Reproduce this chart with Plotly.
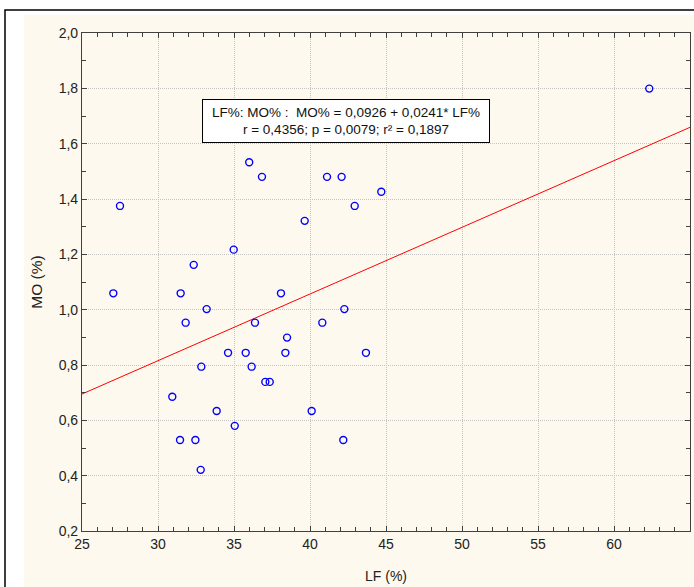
import plotly.graph_objects as go

# Data
lf = [27.06, 27.5, 30.94, 31.45, 31.49, 31.82, 32.35, 32.46, 32.81, 32.85,
      33.2, 33.86, 34.61, 34.98, 35.05, 35.77, 36.0, 36.16, 36.38, 36.84,
      37.06, 37.35, 38.09, 38.38, 38.49, 39.65, 40.11, 40.81, 41.12, 42.08,
      42.19, 42.26, 42.94, 43.68, 44.69, 62.32]
mo = [1.059, 1.375, 0.685, 0.529, 1.059, 0.953, 1.162, 0.529, 0.421, 0.794,
      1.002, 0.634, 0.844, 1.217, 0.580, 0.844, 1.533, 0.794, 0.953, 1.48,
      0.739, 0.739, 1.059, 0.844, 0.899, 1.321, 0.634, 0.953, 1.48, 1.48,
      0.529, 1.002, 1.375, 0.844, 1.426, 1.799]

intercept = 0.0926
slope = 0.0241
x_range = [25, 65]
y_range = [0.2, 2.0]
x_ticks = [25, 30, 35, 40, 45, 50, 55, 60, 65]
y_ticks = [0.2, 0.4, 0.6, 0.8, 1.0, 1.2, 1.4, 1.6, 1.8, 2.0]
eq_text = "LF%: MO% :  MO% = 0,0926 + 0,0241* LF%<br>r = 0,4356; p = 0,0079; r² = 0,1897"

fit_x = x_range
fit_y = [intercept + slope * v for v in fit_x]

W, H = 694, 587
ml, mr, mt, mb = 82, 4, 33, 56
pw, ph = W - ml - mr, H - mt - mb


def px2paper_x(px):
    return (px - ml) / pw


def px2paper_y(py):
    return 1 - (py - mt) / ph


fig = go.Figure()
fig.add_trace(go.Scatter(x=fit_x, y=fit_y, mode="lines",
                         line=dict(color="#ff0000", width=1), hoverinfo="skip"))
fig.add_trace(go.Scatter(x=lf, y=mo, mode="markers",
                         marker=dict(symbol="circle-open", size=7,
                                     color="#0000ff", line=dict(width=1.4, color="#0000ff"))))

fam = "Arial, Liberation Sans, sans-serif"
font = dict(family=fam, size=14, color="#222222")
axis_common = dict(
    showline=True, linecolor="#404040", linewidth=1.2, mirror="allticks",
    ticks="inside", ticklen=5, tickcolor="#404040", tickwidth=1,
    showgrid=True, gridcolor="#c4c4c4", griddash="1px,1px", gridwidth=1,
    zeroline=False, tickfont=font,
)

fig.update_layout(
    width=W, height=H,
    margin=dict(l=ml, r=mr, t=mt, b=mb, autoexpand=False),
    paper_bgcolor="white", plot_bgcolor="white",
    showlegend=False, separators=", ",
    font=font,
    xaxis=dict(range=x_range, tickvals=x_ticks, ticktext=[str(v) for v in x_ticks],
               minor=dict(dtick=1, ticks="inside", ticklen=4, tickcolor="#404040", showgrid=False),
               title=dict(text="LF (%)", font=dict(family=fam, size=14, color="#222222"), standoff=20),
               **axis_common),
    yaxis=dict(range=y_range, tickvals=y_ticks, tickformat=".1f",
               minor=dict(dtick=0.1, ticks="inside", ticklen=4, tickcolor="#404040", showgrid=False),
               title=dict(text="MO (%)", font=dict(family=fam, size=15.5, color="#222222"), standoff=12),
               **axis_common),
    shapes=[
        dict(type="rect", xref="paper", yref="paper", layer="below",
             x0=px2paper_x(5), x1=px2paper_x(720), y0=px2paper_y(10), y1=px2paper_y(620),
             fillcolor="white", line=dict(color="black", width=1.5)),
        dict(type="rect", xref="paper", yref="paper", layer="below",
             x0=px2paper_x(24), x1=px2paper_x(720), y0=px2paper_y(15), y1=px2paper_y(620),
             fillcolor="#fef9ee", line=dict(width=0)),
    ],
    annotations=[
        dict(x=42.37, y=1.683, xref="x", yref="y", text=eq_text, showarrow=False,
             align="center", bgcolor="white", bordercolor="black", borderwidth=1,
             borderpad=1, width=284, height=40,
             font=dict(family=fam, size=13.5, color="#111111")),
    ],
)

fig.write_html("out.html", config={"displayModeBar": False},
               post_script="document.body.style.margin='0';document.body.style.overflow='hidden';")
